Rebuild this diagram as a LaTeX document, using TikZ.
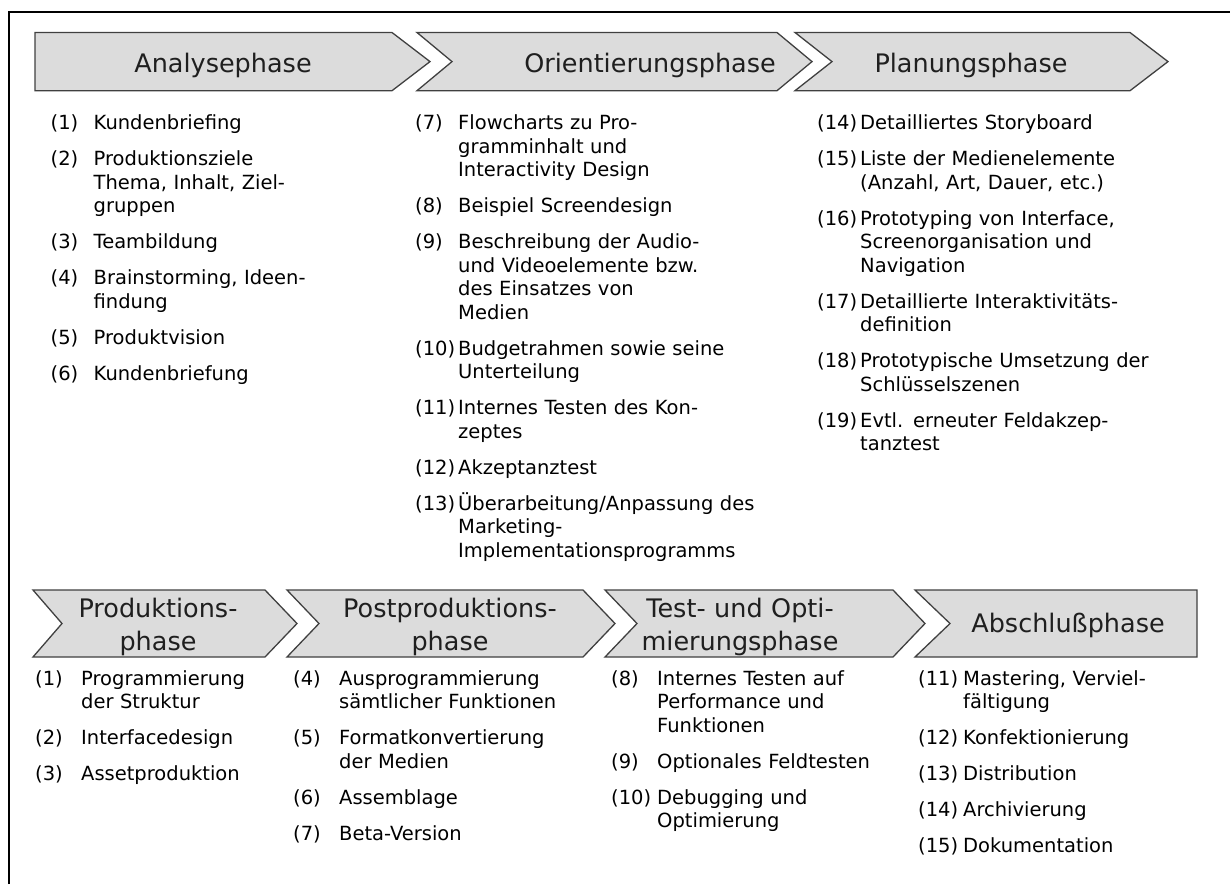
\documentclass[tikz,border=0pt]{standalone}
\usepackage{fontspec}
\setmainfont{DejaVu Sans}
\usetikzlibrary{positioning}
\definecolor{phasefill}{HTML}{DCDCDC}
\definecolor{phaseline}{HTML}{404040}
% one numbered step with hanging indent
\newlength{\steptab}
\newcommand{\itm}[2]{\hangindent=\steptab\hangafter=1\makebox[\steptab][l]{#1}#2\par\vskip12.5pt}
\tikzset{
  phase/.style={fill=phasefill, draw=phaseline, line width=1.3pt},
  phasename/.style={anchor=base, text width=320pt, align=center, inner sep=0pt,
    text=black!88, font=\fontsize{25.5}{33}\selectfont},
  steps/.style={anchor=base west, text width=420pt, inner sep=0pt,
    font=\fontsize{19.5}{23.5}\selectfont,
    execute at begin node={\setlength{\steptab}{#1}}},
  steps/.default=43pt,
}
\begin{document}
\begin{tikzpicture}[x=1pt, y=-1pt]
\useasboundingbox (0,0) rectangle (1230,884);
\draw[line width=2pt] (9,884) -- (9,12) -- (1230,12);

% upper row
\draw[phase] (35,32.5) -- (392,32.5) -- (430,61.6) -- (392,90.7) -- (35,90.7) -- cycle;
\draw[phase] (417,32.5) -- (777,32.5) -- (812,61.6) -- (777,90.7) -- (417,90.7) -- (452,61.6) -- cycle;
\draw[phase] (795,32.5) -- (1130,32.5) -- (1168,61.6) -- (1130,90.7) -- (795,90.7) -- (832,61.6) -- cycle;
\node[phasename] (analyse) at (223,72.7) {Analysephase};
\node[phasename] (orient) at (650,72.7) {Orientierungsphase};
\node[phasename] (planung) at (971,72.7) {Planungsphase};

\node[steps] (analyse-steps) at (50.5,129.5) {%
\itm{(1)}{Kundenbriefing}
\itm{(2)}{Produktionsziele\newline Thema, Inhalt, Ziel-\newline gruppen}
\itm{(3)}{Teambildung}
\itm{(4)}{Brainstorming, Ideen-\newline findung}
\itm{(5)}{Produktvision}
\itm{(6)}{Kundenbriefung}};
\node[steps] (orient-steps) at (415,129.5) {%
\itm{(7)}{Flowcharts zu Pro-\newline gramminhalt und\newline Interactivity Design}
\itm{(8)}{Beispiel Screendesign}
\itm{(9)}{Beschreibung der Audio-\newline und Videoelemente bzw.\newline des Einsatzes von\newline Medien}
\itm{(10)}{Budgetrahmen sowie seine\newline Unterteilung}
\itm{(11)}{Internes Testen des Kon-\newline zeptes}
\itm{(12)}{Akzeptanztest}
\itm{(13)}{Überarbeitung/Anpassung des\newline Marketing-\newline Implementationsprogramms}};
\node[steps] (planung-steps) at (817,129.5) {%
\itm{(14)}{Detailliertes Storyboard}
\itm{(15)}{Liste der Medienelemente\newline (Anzahl, Art, Dauer, etc.)}
\itm{(16)}{Prototyping von Interface,\newline Screenorganisation und\newline Navigation}
\itm{(17)}{Detaillierte Interaktivitäts-\newline definition}
\itm{(18)}{Prototypische Umsetzung der\newline Schlüsselszenen}
\itm{(19)}{Evtl. erneuter Feldakzep-\newline tanztest}};

% lower row
\draw[phase] (33,590) -- (265,590) -- (297,623.5) -- (265,657) -- (33,657) -- (62,623.5) -- cycle;
\draw[phase] (287,590) -- (583,590) -- (615,623.5) -- (583,657) -- (287,657) -- (319,623.5) -- cycle;
\draw[phase] (605,590) -- (893,590) -- (925,623.5) -- (893,657) -- (605,657) -- (637,623.5) -- cycle;
\draw[phase] (915,590) -- (1197,590) -- (1197,657) -- (915,657) -- (950,623.5) -- cycle;
\node[phasename] (produktion) at (158,617) {Produktions-\\phase};
\node[phasename] (post) at (450,617) {Postproduktions-\\phase};
\node[phasename] (test) at (740,617) {Test- und Opti-\\mierungsphase};
\node[phasename] (abschluss) at (1068,632) {Abschlußphase};

\node[steps=46pt] (produktion-steps) at (35,685) {%
\itm{(1)}{Programmierung\newline der Struktur}
\itm{(2)}{Interfacedesign}
\itm{(3)}{Assetproduktion}};
\node[steps=46pt] (post-steps) at (293,685) {%
\itm{(4)}{Ausprogrammierung\newline sämtlicher Funktionen}
\itm{(5)}{Formatkonvertierung\newline der Medien}
\itm{(6)}{Assemblage}
\itm{(7)}{Beta-Version}};
\node[steps=46pt] (test-steps) at (611,685) {%
\itm{(8)}{Internes Testen auf\newline Performance und\newline Funktionen}
\itm{(9)}{Optionales Feldtesten}
\itm{(10)}{Debugging und\newline Optimierung}};
\node[steps=45pt] (abschluss-steps) at (918,685) {%
\itm{(11)}{Mastering, Verviel-\newline fältigung}
\itm{(12)}{Konfektionierung}
\itm{(13)}{Distribution}
\itm{(14)}{Archivierung}
\itm{(15)}{Dokumentation}};
\end{tikzpicture}
\end{document}
